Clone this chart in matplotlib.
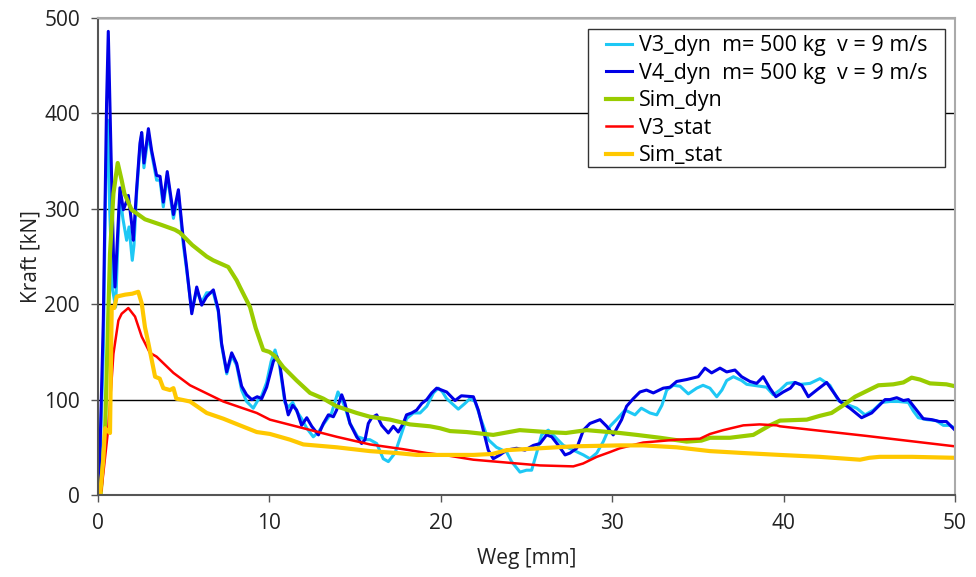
import matplotlib
matplotlib.use("Agg")
import matplotlib.pyplot as plt
from matplotlib.patches import Rectangle

# Weg [mm] / Kraft [kN] pairs for each curve
v3_dyn_x = [0, 0.05, 0.31, 0.45, 0.56, 0.68, 0.85, 1.03, 1.15, 1.28, 1.45, 1.67, 1.81, 2.0, 2.1,
            2.25, 2.45, 2.55, 2.68, 2.94, 3.13, 3.42, 3.62, 3.81, 4.04, 4.4, 4.69, 4.98, 5.17,
            5.47, 5.76, 6.05, 6.34, 6.73, 7.02, 7.21, 7.51, 7.8, 8.09, 8.38, 8.67, 9.06, 9.35,
            9.55, 9.84, 10.1, 10.33, 10.6, 10.9, 11.1, 11.36, 11.59, 11.88, 12.18, 12.56, 12.86,
            13.15, 13.63, 14.0, 14.22, 14.41, 14.7, 15.15, 15.67, 15.86, 16.26, 16.64, 16.94,
            17.33, 17.72, 18.0, 18.4, 18.79, 19.18, 19.57, 19.86, 20.1, 20.34, 21.02, 21.41,
            21.7, 22.0, 22.29, 22.77, 23.25, 23.84, 24.13, 24.62, 25.0, 25.3, 25.59, 25.88,
            26.27, 26.66, 27.15, 27.73, 28.32, 28.7, 29.1, 29.48, 29.87, 30.25, 30.75, 31.33,
            31.7, 32.2, 32.6, 32.9, 33.18, 33.57, 33.96, 34.44, 34.93, 35.3, 35.7, 36.1, 36.4,
            36.68, 37.07, 37.55, 37.85, 38.6, 39.0, 39.4, 39.79, 40.2, 40.6, 41.0, 41.54, 42.12,
            42.7, 43.2, 43.68, 44.26, 44.75, 45.24, 45.72, 46.2, 46.7, 47.28, 47.57, 47.86,
            48.35, 48.9, 49.32, 49.7, 50.0]
v3_dyn_y = [0, 0, 150, 330, 393, 300, 215, 197, 260, 315, 290, 267, 281, 246, 262,
            315, 365, 378, 343, 378, 358, 330, 330, 302, 335, 290, 316, 262, 236,
            193, 214, 202, 212, 212, 192, 157, 127, 146, 136, 110, 98, 91, 100,
            104, 118, 140, 152, 135, 97, 92, 97, 88, 80, 70, 61, 66,
            74, 86, 108, 100, 92, 75, 61, 58, 58, 54, 38, 35,
            44, 65, 80, 86, 86, 93, 107, 112, 108, 101, 90, 96,
            101, 98, 82, 58, 50, 45, 35, 24, 26, 26, 44, 63,
            68, 61, 52, 47, 42, 38, 44, 56, 72, 79, 89, 84,
            91, 86, 84, 94, 110, 115, 114, 106, 112, 115, 112, 103, 110,
            120, 124, 120, 116, 114, 113, 105, 110, 117, 118, 116, 117, 122,
            115, 99, 95, 91, 84, 89, 97, 98, 98, 97, 88, 81,
            79, 78, 73, 73, 70]

v4_dyn_x = [0, 0.05, 0.31, 0.5, 0.6, 0.76, 0.9, 0.99, 1.09, 1.28, 1.48, 1.63, 1.77, 1.96, 2.06,
            2.25, 2.45, 2.55, 2.68, 2.94, 3.13, 3.42, 3.62, 3.81, 4.04, 4.4, 4.69, 4.98, 5.17,
            5.47, 5.76, 6.05, 6.34, 6.73, 7.02, 7.21, 7.51, 7.8, 8.09, 8.38, 8.67, 8.97, 9.29,
            9.55, 9.84, 10.23, 10.43, 10.6, 10.9, 11.1, 11.36, 11.59, 11.88, 12.18, 12.47, 12.86,
            13.15, 13.44, 13.73, 13.92, 14.22, 14.41, 14.7, 15.09, 15.38, 15.58, 15.77, 15.97,
            16.26, 16.55, 16.94, 17.23, 17.52, 17.81, 18.0, 18.3, 18.59, 18.89, 19.18, 19.47,
            19.76, 20.05, 20.34, 20.83, 21.2, 21.9, 22.19, 22.48, 22.77, 23.06, 23.45, 23.84,
            24.42, 24.91, 25.4, 25.79, 26.17, 26.47, 26.86, 27.25, 27.54, 27.93, 28.32, 28.7,
            29.29, 29.68, 30.06, 30.55, 30.84, 31.23, 31.62, 32.0, 32.4, 32.98, 33.37, 33.76,
            34.34, 35.02, 35.41, 35.8, 36.29, 36.68, 37.16, 37.55, 38.04, 38.43, 38.81, 39.2,
            39.55, 39.98, 40.4, 40.67, 41.06, 41.44, 41.93, 42.51, 42.9, 43.29, 43.87, 44.55,
            45.14, 45.53, 45.92, 46.2, 46.6, 46.99, 47.28, 47.67, 48.15, 48.64, 49.1, 49.5, 50.0]
v4_dyn_y = [0, 0, 183, 411, 486, 358, 253, 218, 253, 322, 299, 306, 314, 285, 267,
            320, 369, 380, 348, 384, 361, 335, 334, 307, 339, 294, 320, 267, 239,
            190, 218, 199, 208, 215, 194, 159, 129, 149, 138, 114, 105, 100, 103,
            101, 113, 140, 145, 138, 100, 84, 94, 89, 73, 81, 72, 63,
            75, 84, 82, 89, 105, 96, 75, 61, 54, 58, 75, 81,
            84, 73, 65, 72, 66, 75, 84, 86, 89, 96, 100, 107,
            112, 110, 108, 99, 104, 103, 89, 68, 47, 38, 42, 47,
            49, 47, 52, 54, 63, 61, 52, 42, 44, 49, 68, 75,
            79, 72, 63, 79, 93, 101, 108, 110, 107, 112, 113, 119,
            121, 124, 133, 128, 133, 129, 131, 124, 119, 117, 124, 112,
            103, 108, 112, 118, 115, 103, 110, 118, 108, 98, 91, 81,
            86, 93, 100, 100, 102, 99, 100, 91, 80, 79, 77, 77, 68]

sim_dyn_x = [0, 0.15, 0.41, 0.7, 0.9, 1.15, 1.38, 1.54, 1.96, 2.74, 3.72, 4.49, 4.78, 5.5, 6.34,
             6.72, 7.6, 8.09, 8.28, 8.87, 9.2, 9.64, 10.0, 10.3, 10.81, 11.59, 12.37, 13.15,
             13.92, 15.09, 15.87, 17.04, 18.2, 19.37, 19.95, 20.54, 21.5, 23.06, 24.6, 26.18,
             27.3, 28.5, 30.45, 31.43, 32.79, 34.34, 35.2, 35.71, 36.87, 38.23, 39.2, 39.79,
             41.35, 42.12, 42.8, 43.48, 44.17, 44.85, 45.53, 46.4, 46.99, 47.47, 47.96, 48.54,
             49.5, 50.0]
sim_dyn_y = [0, 0, 65, 253, 316, 348, 330, 316, 299, 289, 283, 278, 275, 262, 250,
             246, 239, 225, 218, 197, 175, 152, 150, 146, 134, 120, 107, 101,
             93, 86, 82, 79, 74, 72, 70, 67, 66, 63, 68, 66,
             65, 68, 65, 63, 60, 56, 57, 60, 60, 63, 73, 78,
             79, 83, 86, 94, 103, 109, 115, 116, 118, 123, 121, 117,
             116, 114]

v3_stat_x = [0, 0.1, 0.2, 0.6, 0.9, 1.19, 1.38, 1.77, 2.16, 2.55, 3.03, 3.42, 4.4, 5.37, 7.31,
             9.26, 10.03, 11.98, 13.93, 15.87, 17.81, 19.18, 20.54, 21.9, 23.84, 25.79, 27.73,
             28.3, 29.1, 29.87, 30.45, 31.81, 33.76, 35.12, 35.71, 36.48, 37.65, 38.6, 39.6,
             39.79, 44.8, 50.0]
v3_stat_y = [0, 0, 5, 70, 148, 183, 190, 196, 187, 166, 149, 145, 128, 115, 98,
             86, 79, 70, 61, 53, 48, 44, 41, 37, 34, 31, 30,
             33, 40, 45, 49, 55, 58, 59, 64, 68, 73, 74, 73,
             72, 62, 51]

sim_stat_x = [0, 0.12, 0.31, 0.41, 0.7, 0.8, 0.95, 1.09, 1.58, 2.0, 2.35, 2.55, 2.74, 2.94,
              3.33, 3.6, 3.81, 4.2, 4.4, 4.57, 5.37, 6.34, 7.31, 8.28, 9.26, 10.03, 11.2,
              11.98, 13.93, 15.87, 17.43, 18.59, 19.95, 21.9, 23.0, 23.84, 25.79, 27.73, 30.45,
              31.81, 33.76, 35.71, 37.65, 39.79, 42.1, 44.46, 45.0, 45.6, 47.5, 50.0]
sim_stat_y = [0, 0, 37, 70, 65, 197, 196, 208, 210, 211, 213, 201, 176, 159,
              124, 122, 112, 110, 112, 101, 98, 86, 80, 73, 66, 64, 58,
              53, 50, 46, 44, 42, 42, 42, 43, 47, 49, 51, 52,
              52, 50, 46, 44, 42, 40, 37, 39, 40, 40, 39]

labels = ["V3_dyn  m= 500 kg  v = 9 m/s", "V4_dyn  m= 500 kg  v = 9 m/s",
          "Sim_dyn", "V3_stat", "Sim_stat"]
colors = ["#1EC8F5", "#0000E6", "#99CC00", "#FF0000", "#FFC800"]
widths = [2.2, 2.2, 3.0, 1.8, 3.0]

plt.rcParams["font.family"] = ["Open Sans", "DejaVu Sans"]

W, H = 976, 577
fig = plt.figure(figsize=(W / 100, H / 100), dpi=100)
ax = fig.add_axes([98 / W, 1 - 495 / H, 857 / W, 477 / H])

series = [(v3_dyn_x, v3_dyn_y), (v4_dyn_x, v4_dyn_y), (sim_dyn_x, sim_dyn_y),
          (v3_stat_x, v3_stat_y), (sim_stat_x, sim_stat_y)]
for (xs, ys), lab, col, lw in zip(series, labels, colors, widths):
    ax.plot(xs, ys, color=col, lw=lw, label=lab, solid_joinstyle="round")

ax.set_xlim(0, 50)
ax.set_ylim(0, 500)
ax.set_xticks(range(0, 51, 10))
ax.set_yticks(range(0, 501, 100))
ax.yaxis.grid(True, color="black", lw=1.0)
ax.set_axisbelow(True)

for side in ["left", "bottom"]:
    ax.spines[side].set_color("#555555")
    ax.spines[side].set_linewidth(1.5)
for side in ["top", "right"]:
    ax.spines[side].set_color("#aaaaaa")
    ax.spines[side].set_linewidth(1.5)

ax.tick_params(axis="both", direction="out", length=5, width=1, color="#555555",
               labelsize=15, labelcolor="#222222", pad=8)

ax.set_xlabel("Weg [mm]", fontsize=15, color="#222222", labelpad=10)
ax.set_ylabel("Kraft [kN]", fontsize=15, color="#222222", labelpad=2)

# legend without its own frame; the box is drawn separately with wider side margins
leg = ax.legend(loc="upper left", bbox_to_anchor=(606 / W, 1 - 35.5 / H),
                bbox_transform=fig.transFigure, fontsize=15.5, frameon=False,
                handlelength=1.2, handletextpad=0.33, labelspacing=0.3,
                borderpad=0, borderaxespad=0)
leg.set_zorder(6)
box = Rectangle((588 / W, 1 - 167 / H), 357 / W, 138 / H, transform=fig.transFigure,
                facecolor="white", edgecolor="#333333", lw=1.0, zorder=5, clip_on=False)
ax.add_patch(box)

fig.savefig("out.png", dpi=100)
